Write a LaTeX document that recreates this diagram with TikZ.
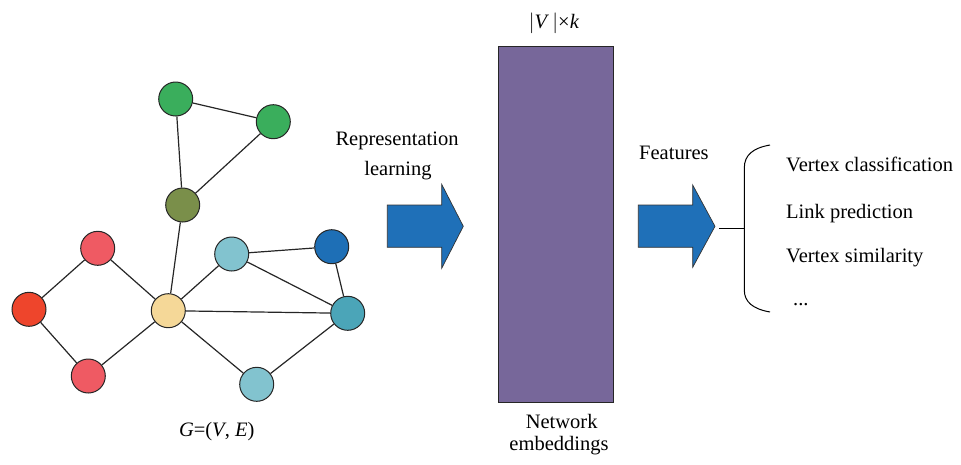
\documentclass[tikz,border=0pt]{standalone}
\usepackage{fontspec}
\setmainfont{Liberation Serif}
\definecolor{cgreen}{HTML}{3AAE5C}
\definecolor{colive}{HTML}{7A8F4A}
\definecolor{cpink}{HTML}{EF5A63}
\definecolor{cred}{HTML}{EE452C}
\definecolor{cyellow}{HTML}{F5D898}
\definecolor{clblue}{HTML}{82C3CF}
\definecolor{cdblue}{HTML}{1E6FB6}
\definecolor{cteal}{HTML}{4BA5B8}
\definecolor{cpurple}{HTML}{77679A}
\definecolor{carrow}{HTML}{1F70B8}
\begin{document}
\begin{tikzpicture}[x=1pt,y=-1pt,
  vtx/.style={circle,draw=black!85,line width=1pt,minimum size=34pt,inner sep=0pt},
  edge/.style={draw=black!85,line width=1.2pt},
  lbl/.style={font=\fontsize{20.5}{24}\selectfont,inner sep=0pt},
  bigarrow/.style={fill=carrow,draw=black!80,line width=0.7pt}]
\useasboundingbox (0,0) rectangle (961,464);
% vertices
\node[vtx,fill=cgreen] (g1) at (175.7,99) {};
\node[vtx,fill=cgreen] (g2) at (273.3,121.7) {};
\node[vtx,fill=colive] (ol) at (182.7,205) {};
\node[vtx,fill=cpink] (rt) at (97.7,248.3) {};
\node[vtx,fill=cred] (rl) at (29,309.3) {};
\node[vtx,fill=cpink] (rb) at (88.3,376) {};
\node[vtx,fill=cyellow] (y) at (168.3,310.7) {};
\node[vtx,fill=clblue] (lt) at (231.7,254) {};
\node[vtx,fill=cdblue] (db) at (331.7,246.7) {};
\node[vtx,fill=cteal] (te) at (347.7,313.3) {};
\node[vtx,fill=clblue] (lb) at (256.7,384.3) {};
% edges
\draw[edge] (g1) -- (g2);
\draw[edge] (g1) -- (ol);
\draw[edge] (g2) -- (ol);
\draw[edge] (ol) -- (y);
\draw[edge] (rt) -- (rl);
\draw[edge] (rt) -- (y);
\draw[edge] (rl) -- (rb);
\draw[edge] (rb) -- (y);
\draw[edge] (y) -- (lt);
\draw[edge] (y) -- (te);
\draw[edge] (y) -- (lb);
\draw[edge] (lt) -- (db);
\draw[edge] (lt) -- (te);
\draw[edge] (db) -- (te);
\draw[edge] (te) -- (lb);
\node[lbl,anchor=base] (glabel) at (216.7,436.7) {\textit{G}=(\textit{V}, \textit{E})};
% arrow 1
\node[lbl,anchor=base] (rep1) at (397,145) {Representation};
\node[lbl,anchor=base] (rep2) at (398,175) {learning};
\draw[bigarrow] (387.3,205) -- (441.7,205) -- (441.7,184.3) -- (463.3,226.3) -- (441.7,268.3) -- (441.7,247.3) -- (387.3,247.3) -- cycle;
% embedding matrix
\node[draw=black!85,line width=1pt,fill=cpurple,minimum width=115pt,minimum height=356pt,inner sep=0pt,anchor=north west] (emb) at (498.3,45.7) {};
\node[lbl,anchor=base] (dim) at (554,28.3) {$|$\textit{V}\,$|$×\textit{k}};
\node[lbl,anchor=base] (net1) at (561.7,428.3) {Network};
\node[lbl,anchor=base] (net2) at (559,450) {embeddings};
% arrow 2
\node[lbl,anchor=base west] (feat) at (639,159.3) {Features};
\draw[bigarrow] (638.3,205) -- (692.7,205) -- (692.7,185) -- (715,226.3) -- (692.7,267.3) -- (692.7,247.3) -- (638.3,247.3) -- cycle;
\coordinate (a2tip) at (719.3,228.3);
\coordinate (bmid) at (744.3,228.3);
\draw[line width=1.3pt] (a2tip) -- (bmid);
\coordinate (btop) at (770,145);
\coordinate (bbot) at (770,312);
\draw[line width=1pt] (btop) .. controls (753,148) and (744.3,155) .. (744.3,168) -- (744.3,290) .. controls (744.3,302) and (753,309) .. (bbot);
\node[lbl,anchor=base west] (t1) at (786,171.7) {Vertex classification};
\node[lbl,anchor=base west] (t2) at (786,218.3) {Link prediction};
\node[lbl,anchor=base west] (t3) at (786,262.7) {Vertex similarity};
\node[lbl,anchor=base west] (t4) at (793,305) {...};
\end{tikzpicture}
\end{document}
